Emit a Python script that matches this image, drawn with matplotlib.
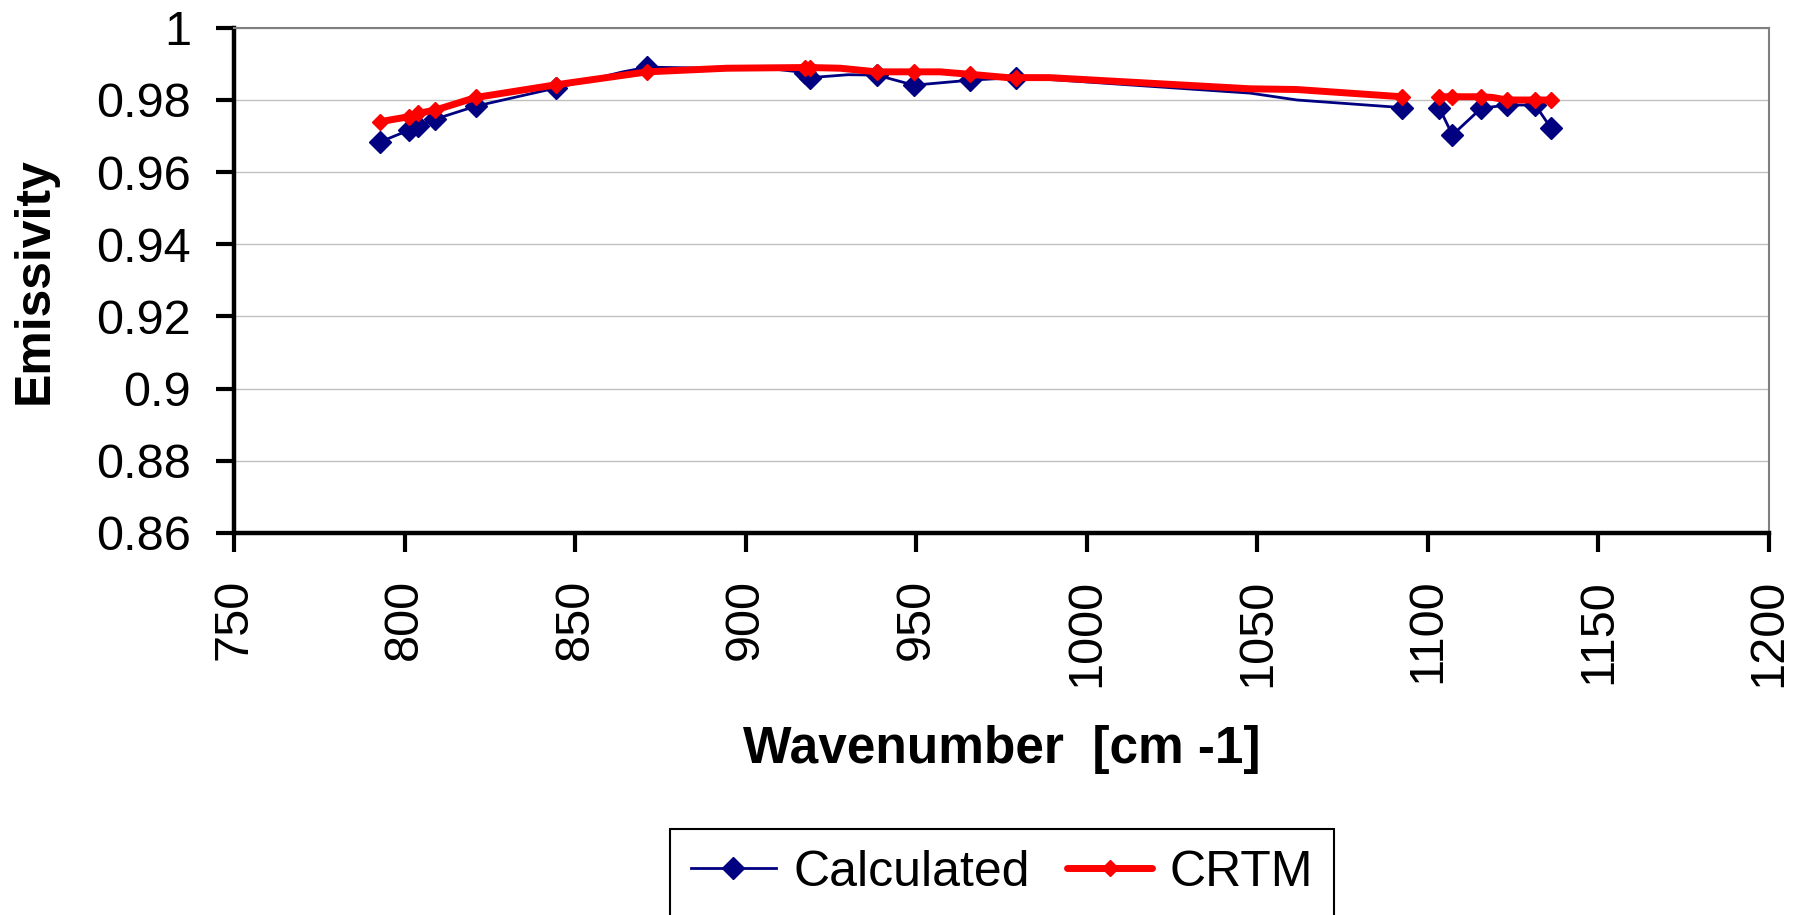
import numpy as np
import matplotlib
matplotlib.use("Agg")
import matplotlib.pyplot as plt
from matplotlib.lines import Line2D

plt.rcParams['font.family'] = ['Liberation Sans', 'DejaVu Sans']

# ---- data ----
calc_wn = [792.9, 801.4, 804.0, 809.0, 820.9, 844.3, 864.0, 871.2, 909.0, 917.4,
           918.9, 930.0, 938.4, 949.3, 965.9, 979.3, 989.0, 1047.9, 1061.6, 1092.3,
           np.nan,
           1103.4, 1107.2, 1115.6, 1123.2, 1131.5, 1136.1]
calc_em = [0.9684, 0.9717, 0.9728, 0.9747, 0.9783, 0.9833, 0.9878, 0.9891, 0.9885, 0.9876,
           0.9862, 0.9870, 0.9869, 0.9841, 0.9855, 0.9862, 0.9857, 0.9819, 0.9800, 0.9779,
           np.nan,
           0.9777, 0.9703, 0.9777, 0.9786, 0.9786, 0.9722]
calc_marked = [1, 1, 1, 1, 1, 1, 0, 1, 0, 1,
               1, 0, 1, 1, 1, 1, 0, 0, 0, 1,
               0,
               1, 1, 1, 1, 1, 1]

crtm_wn = [792.9, 801.4, 804.0, 809.0, 820.9, 844.3, 871.2, 894.4, 917.4, 918.9,
           927.7, 938.4, 949.3, 957.0, 965.9, 969.6, 976.8, 979.3, 989.0, 1047.9,
           1061.6, 1092.3,
           np.nan,
           1103.4, 1107.2, 1115.6, 1119.0, 1123.2, 1131.5, 1136.1]
crtm_em = [0.9740, 0.9754, 0.9763, 0.9772, 0.9807, 0.9842, 0.9878, 0.9888, 0.9890, 0.9890,
           0.9888, 0.9878, 0.9878, 0.9878, 0.9871, 0.9868, 0.9862, 0.9862, 0.9862, 0.9831,
           0.9829, 0.9809,
           np.nan,
           0.9809, 0.9809, 0.9809, 0.9807, 0.9800, 0.9800, 0.9800]
crtm_marked = [1, 1, 1, 1, 1, 1, 1, 0, 1, 1,
               0, 1, 1, 0, 1, 0, 0, 1, 0, 0,
               0, 1,
               0,
               1, 1, 1, 0, 1, 1, 1]

x_ticks = [750, 800, 850, 900, 950, 1000, 1050, 1100, 1150, 1200]
y_ticks = [0.86, 0.88, 0.90, 0.92, 0.94, 0.96, 0.98, 1.00]
y_tick_labels = ['0.86', '0.88', '0.9', '0.92', '0.94', '0.96', '0.98', '1']

series_names = ['Calculated', 'CRTM']

# ---- figure ----
fig = plt.figure(figsize=(18.06, 9.15), dpi=100)
ax = fig.add_axes([0.1296, 0.4175, 0.8499, 0.5521])

navy = '#000080'
red = '#FF0000'

ax.plot(calc_wn, calc_em, color=navy, lw=2.0, marker='D', markersize=11.5,
        markerfacecolor=navy, markeredgecolor=navy,
        markevery=[bool(m) for m in calc_marked], zorder=3,
        label=series_names[0])
ax.plot(crtm_wn, crtm_em, color=red, lw=5.0, marker='D', markersize=8.0,
        markerfacecolor=red, markeredgecolor=red,
        markevery=[bool(m) for m in crtm_marked], zorder=4,
        solid_capstyle='round', solid_joinstyle='round',
        label=series_names[1])

ax.set_xlim(750, 1200)
ax.set_ylim(0.86, 1.0)
ax.set_xticks(x_ticks)
ax.set_xticklabels([str(t) for t in x_ticks], rotation=90, fontsize=35)
ax.set_yticks(y_ticks)
ax.set_yticklabels(y_tick_labels, fontsize=35)

ax.tick_params(axis='x', direction='out', length=14, width=3, pad=19)
ax.tick_params(axis='y', direction='out', length=13, width=3, pad=18)

ax.yaxis.grid(True, color='#C0C0C0', lw=1.0)
ax.set_axisbelow(True)

for s in ['left', 'bottom']:
    ax.spines[s].set_color('black')
    ax.spines[s].set_linewidth(3.2)
for s in ['top', 'right']:
    ax.spines[s].set_color('#808080')
    ax.spines[s].set_linewidth(1.5)

ax.set_ylabel('Emissivity', fontsize=36, fontweight='bold')
ax.set_xlabel('Wavenumber  [cm -1]', fontsize=37, fontweight='bold')
ax.yaxis.set_label_coords(-0.130, 0.5)
ax.yaxis.label.set_va('center')
ax.xaxis.set_label_coords(0.5, -0.428)
ax.xaxis.label.set_va('center')

handles = [
    Line2D([], [], color=navy, lw=2.0, marker='D', markersize=11.5,
           markerfacecolor=navy, markeredgecolor=navy),
    Line2D([], [], color=red, lw=5.0, marker='D', markersize=8.0,
           markerfacecolor=red, markeredgecolor=red, solid_capstyle='round'),
]
leg = fig.legend(handles, series_names, loc='upper center',
                 bbox_to_anchor=(0.5548, 0.094), ncol=2, fontsize=36,
                 frameon=True, fancybox=False, shadow=False, framealpha=1,
                 edgecolor='black', handlelength=1.7, handletextpad=0.35,
                 columnspacing=0.75, borderpad=0.42, borderaxespad=0.0)
leg.get_frame().set_linewidth(1.5)

fig.savefig('out.png', dpi=100)
